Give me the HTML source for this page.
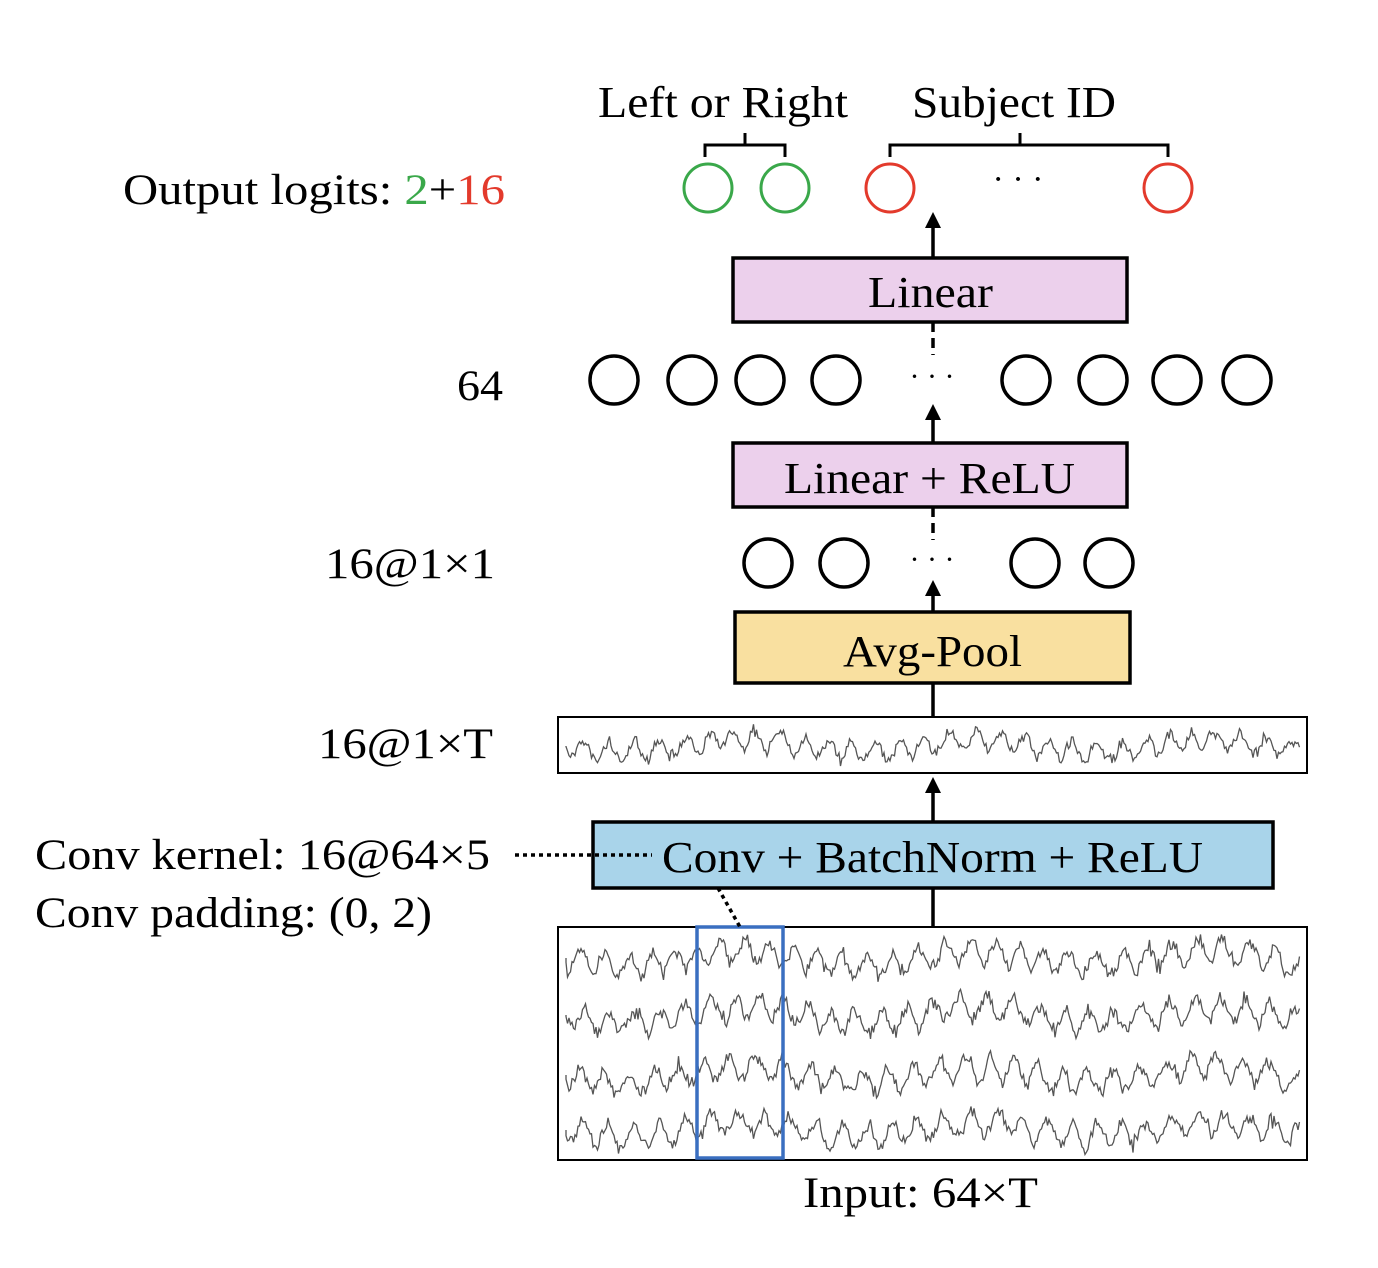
<!DOCTYPE html>
<html><head><meta charset="utf-8"><style>
html,body{margin:0;padding:0;background:#fff;}
svg{display:block;}
text{font-family:"Liberation Serif",serif;fill:#000;}
</style></head><body>
<svg id="s" width="1378" height="1268" viewBox="0 0 1378 1268" xmlns="http://www.w3.org/2000/svg">
<text x="598" y="117" font-size="44" textLength="250" lengthAdjust="spacingAndGlyphs">Left or Right</text>
<text x="912" y="117" font-size="44" textLength="204" lengthAdjust="spacingAndGlyphs">Subject ID</text>
<path d="M705,157 V145 H785 V157 M745,145 V133" fill="none" stroke="#000" stroke-width="3"/>
<path d="M890,157 V145 H1168 V157 M1020,145 V133" fill="none" stroke="#000" stroke-width="3"/>
<text x="123" y="204" font-size="43" textLength="382" lengthAdjust="spacingAndGlyphs">Output logits: <tspan fill="#3aa84a">2</tspan>+<tspan fill="#e33a2c">16</tspan></text>
<g fill="none" stroke-width="3">
<circle cx="708" cy="188" r="24" stroke="#3aa84a"/><circle cx="785" cy="188" r="24" stroke="#3aa84a"/>
<circle cx="890" cy="188" r="24" stroke="#e33a2c"/><circle cx="1168" cy="188" r="24" stroke="#e33a2c"/>
</g>
<text x="1018" y="190" font-size="34" text-anchor="middle">· · ·</text>
<g stroke="#000" stroke-width="3.5">
<line x1="933" y1="258" x2="933" y2="225"/>
<line x1="933" y1="443" x2="933" y2="418"/>
<line x1="933" y1="612" x2="933" y2="593"/>
<line x1="933" y1="683" x2="933" y2="717"/>
<line x1="933" y1="822" x2="933" y2="790"/>
<line x1="933" y1="888" x2="933" y2="927"/>
<line x1="933" y1="322" x2="933" y2="355" stroke-dasharray="10,6"/>
<line x1="933" y1="507" x2="933" y2="540" stroke-dasharray="10,6"/>
</g>
<g fill="#000">
<path d="M925,228 L933,212 L941,228 z"/>
<path d="M925,420 L933,404 L941,420 z"/>
<path d="M925,596 L933,580 L941,596 z"/>
<path d="M925,793 L933,777 L941,793 z"/>
</g>
<rect x="733" y="258" width="394" height="64" fill="#ecd0ec" stroke="#000" stroke-width="3.5"/>
<text x="868" y="307" font-size="44" textLength="125" lengthAdjust="spacingAndGlyphs">Linear</text>
<rect x="733" y="443" width="394" height="64" fill="#ecd0ec" stroke="#000" stroke-width="3.5"/>
<text x="784" y="493" font-size="44" textLength="291" lengthAdjust="spacingAndGlyphs">Linear + ReLU</text>
<rect x="735" y="612" width="395" height="71" fill="#f9e0a0" stroke="#000" stroke-width="3.5"/>
<text x="843" y="666" font-size="44" textLength="179" lengthAdjust="spacingAndGlyphs">Avg-Pool</text>
<rect x="593" y="822" width="680" height="66" fill="#a9d4ea" stroke="#000" stroke-width="3.5"/>
<text x="662" y="872" font-size="44" textLength="541" lengthAdjust="spacingAndGlyphs">Conv + BatchNorm + ReLU</text>
<text x="457" y="400" font-size="43" textLength="46" lengthAdjust="spacingAndGlyphs">64</text>
<g fill="none" stroke="#000" stroke-width="3.5">
<circle cx="614" cy="380" r="24"/><circle cx="692" cy="380" r="24"/><circle cx="760" cy="380" r="24"/><circle cx="836" cy="380" r="24"/>
<circle cx="1026" cy="380" r="24"/><circle cx="1103" cy="380" r="24"/><circle cx="1177" cy="380" r="24"/><circle cx="1247" cy="380" r="24"/>
<circle cx="768" cy="563" r="24"/><circle cx="844" cy="563" r="24"/><circle cx="1035" cy="563" r="24"/><circle cx="1109" cy="563" r="24"/>
</g>
<text x="932" y="386" font-size="30" text-anchor="middle">·  ·  ·</text>
<text x="932" y="569" font-size="30" text-anchor="middle">·  ·  ·</text>
<text x="325" y="578" font-size="43" textLength="170" lengthAdjust="spacingAndGlyphs">16@1×1</text>
<text x="318" y="758" font-size="43" textLength="175" lengthAdjust="spacingAndGlyphs">16@1×T</text>
<rect x="558" y="717" width="749" height="56" fill="#fff" stroke="#000" stroke-width="2"/>
<g id="w1"></g>
<rect x="558" y="927" width="749" height="233" fill="none" stroke="#000" stroke-width="2"/>
<g id="w2"></g>
<rect x="697" y="927" width="86" height="231" fill="none" stroke="#3a6fc0" stroke-width="3.5"/>
<text x="35" y="869" font-size="43" textLength="455" lengthAdjust="spacingAndGlyphs">Conv kernel: 16@64×5</text>
<text x="35" y="927" font-size="43" textLength="397" lengthAdjust="spacingAndGlyphs">Conv padding: (0, 2)</text>
<line x1="515" y1="855" x2="652" y2="855" stroke="#000" stroke-width="3.5" stroke-dasharray="4,4"/>
<line x1="718" y1="888" x2="740" y2="927" stroke="#000" stroke-width="3.5" stroke-dasharray="4,4"/>
<text x="803" y="1207" font-size="43" textLength="235" lengthAdjust="spacingAndGlyphs">Input: 64×T</text>
</svg>
<script>
var seed=7;function r(){seed=(seed*16807)%2147483647;return seed/2147483647;}
function wave(g,x0,x1,yc,amp){var d="M"+x0+","+yc;var ph=0,ph2=0;for(var x=x0;x<=x1;x+=1.5){ph+=0.15+r()*0.45;ph2+=0.04;var y=yc+Math.sin(ph)*amp*(0.4+r()*0.7)+Math.sin(ph2)*amp*0.5+(r()-0.5)*amp*0.6;d+=" L"+x.toFixed(1)+","+y.toFixed(1);}
var p=document.createElementNS("http://www.w3.org/2000/svg","path");p.setAttribute("d",d);p.setAttribute("fill","none");p.setAttribute("stroke","#555");p.setAttribute("stroke-width","1.3");g.appendChild(p);}
wave(document.getElementById("w1"),566,1300,746,12);
var g2=document.getElementById("w2");
[958,1015,1075,1130].forEach(function(y){wave(g2,566,1300,y,15);});
</script>
</body></html>
